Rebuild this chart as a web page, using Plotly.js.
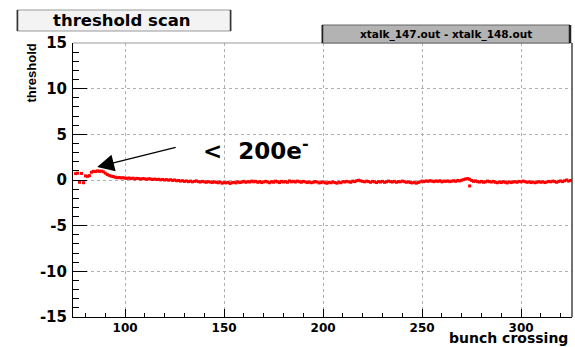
<!DOCTYPE html>
<html>
<head>
<meta charset="utf-8">
<script src="https://cdn.plot.ly/plotly-3.0.1.min.js"></script>
<style>
  html, body { margin: 0; padding: 0; background: #ffffff; }
  #chart { width: 575px; height: 347px; }
</style>
</head>
<body>
<div id="chart"></div>
<script>
// ---- data ----
const firstBunch = 75;
const thresholdValues = [
  0.70, 0.75, -0.25, 0.72, -0.30, 0.45, 0.40, 0.48, 0.85, 0.95,
  0.92, 1.00, 0.95, 0.98, 0.90, 0.75, 0.60, 0.50, 0.42, 0.38,
  0.30, 0.25, 0.28, 0.22, 0.25, 0.20, 0.18, 0.22, 0.15, 0.20,
  0.12, 0.18, 0.15, 0.10, 0.16, 0.12, 0.08, 0.14, 0.10, 0.06,
  0.10, 0.05, 0.08, 0.02, 0.06, 0.00, 0.04, -0.02, 0.03, -0.05,
  0.00, -0.08, -0.05, -0.12, -0.08, -0.15, -0.10, -0.18, -0.12, -0.20,
  -0.15, -0.10, -0.18, -0.22, -0.15, -0.20, -0.25, -0.18, -0.22, -0.28,
  -0.20, -0.25, -0.30, -0.22, -0.35, -0.28, -0.32, -0.25, -0.38, -0.30,
  -0.25, -0.32, -0.20, -0.28, -0.22, -0.15, -0.25, -0.18, -0.22, -0.12,
  -0.20, -0.15, -0.25, -0.18, -0.28, -0.20, -0.15, -0.22, -0.30, -0.18,
  -0.25, -0.12, -0.20, -0.28, -0.15, -0.22, -0.18, -0.25, -0.10, -0.20,
  -0.15, -0.22, -0.12, -0.18, -0.25, -0.15, -0.20, -0.28, -0.22, -0.30,
  -0.25, -0.18, -0.22, -0.32, -0.28, -0.20, -0.30, -0.35, -0.25, -0.30,
  -0.22, -0.28, -0.35, -0.25, -0.30, -0.18, -0.22, -0.15, -0.20, -0.25,
  -0.12, -0.18, -0.08, -0.02, -0.10, -0.15, -0.20, -0.12, -0.18, -0.25,
  -0.15, -0.20, -0.28, -0.18, -0.22, -0.15, -0.25, -0.20, -0.12, -0.18,
  -0.22, -0.15, -0.25, -0.18, -0.20, -0.12, -0.18, -0.25, -0.20, -0.28,
  -0.32, -0.25, -0.35, -0.28, -0.20, -0.12, -0.18, -0.10, -0.15, -0.08,
  -0.12, -0.18, -0.10, -0.15, -0.08, -0.20, -0.12, -0.15, -0.10, -0.18,
  -0.12, -0.08, -0.15, -0.05, -0.10, -0.02, 0.05, 0.12, 0.15, 0.08,
  -0.05, -0.15, -0.10, -0.18, -0.22, -0.15, -0.25, -0.20, -0.12, -0.18,
  -0.22, -0.15, -0.25, -0.30, -0.22, -0.28, -0.18, -0.25, -0.32, -0.20,
  -0.28, -0.22, -0.18, -0.25, -0.15, -0.20, -0.12, -0.18, -0.25, -0.20,
  -0.28, -0.22, -0.30, -0.25, -0.18, -0.25, -0.20, -0.28, -0.22, -0.15,
  -0.20, -0.12, -0.18, -0.25, -0.15, -0.10, -0.18, -0.08, 0.00, -0.12,
  -0.05
];
const bunchCrossing = thresholdValues.map((v, i) => firstBunch + i);
const extraBunch = [274];
const extraValues = [-0.65];

const xTickVals = [100, 150, 200, 250, 300];
const xTickText = ["100", "150", "200", "250", "300"];
const yTickVals = [-15, -10, -5, 0, 5, 10, 15];
const yTickText = ["-15", "-10", "-5", "0", "5", "10", "15"];

const chartTitle = "threshold scan";
const statsLabel = "xtalk_147.out - xtalk_148.out";
const xTitle = "bunch crossing";
const yTitle = "threshold";
const noteText = "&lt;&nbsp; 200e<sup>-</sup>";

// ---- geometry helpers (pixel -> paper) ----
const W = 575, H = 347;
const L = 73, R = 572, T = 43, B = 317;
const px = v => (v - L) / (R - L);
const py = v => (B - v) / (B - T);

const traces = [
  {
    x: bunchCrossing, y: thresholdValues, type: "scatter", mode: "markers",
    marker: {symbol: "square", size: 3, color: "#ff0000", line: {width: 0}},
    hoverinfo: "x+y", showlegend: false
  },
  {
    x: extraBunch, y: extraValues, type: "scatter", mode: "markers",
    marker: {symbol: "square", size: 3, color: "#ff0000", line: {width: 0}},
    hoverinfo: "x+y", showlegend: false
  }
];

const layout = {
  width: W, height: H,
  margin: {l: L, r: W - R, t: T, b: H - B, pad: 0},
  paper_bgcolor: "#ffffff", plot_bgcolor: "#ffffff",
  showlegend: false,
  xaxis: {
    range: [73.7, 325.7], autorange: false,
    tickvals: xTickVals, ticktext: xTickText,
    ticks: "inside", ticklen: 8, tickwidth: 1, tickcolor: "#000",
    minor: {dtick: 10, tick0: 0, ticks: "inside", ticklen: 4, tickcolor: "#000", showgrid: false},
    showgrid: true, gridcolor: "#b0b0b0", griddash: "dot", gridwidth: 1,
    showline: true, linecolor: "#000", linewidth: 1, mirror: false,
    zeroline: false,
    tickfont: {family: "DejaVu Sans", size: 12, color: "#000", weight: "bold"}
  },
  yaxis: {
    range: [-15, 15], autorange: false,
    tickvals: yTickVals, ticktext: yTickText,
    ticks: "inside", ticklen: 14, tickwidth: 1, tickcolor: "#000",
    minor: {dtick: 1, tick0: 0, ticks: "inside", ticklen: 6, tickcolor: "#000", showgrid: false},
    showgrid: true, gridcolor: "#b0b0b0", griddash: "dot", gridwidth: 1,
    showline: true, linecolor: "#000", linewidth: 1, mirror: false,
    zeroline: false,
    tickfont: {family: "DejaVu Sans", size: 15, color: "#000", weight: "bold"}, ticklabelstandoff: 2
  },
  shapes: [
    // frame top/right
    {type: "line", xref: "paper", yref: "paper", x0: 0, x1: 1, y0: 1, y1: 1, line: {color: "#999", width: 1}},
    {type: "line", xref: "paper", yref: "paper", x0: 1, x1: 1, y0: 0, y1: 1, line: {color: "#444", width: 1.5}},
    // title box
    {type: "rect", xref: "paper", yref: "paper", x0: px(17), x1: px(231), y0: py(31), y1: py(10),
     fillcolor: "#f3f3f3", line: {color: "#999", width: 1}},
    {type: "line", xref: "paper", yref: "paper", x0: px(17.5), x1: px(17.5), y0: py(31), y1: py(10), line: {color: "#333", width: 1.5}},
    {type: "line", xref: "paper", yref: "paper", x0: px(230.5), x1: px(230.5), y0: py(31), y1: py(10), line: {color: "#333", width: 1.5}},
    // stats box
    {type: "rect", xref: "paper", yref: "paper", x0: px(322), x1: px(570), y0: py(43), y1: py(25),
     fillcolor: "#b3b3b3", line: {color: "#666", width: 1}},
    {type: "line", xref: "paper", yref: "paper", x0: px(322.5), x1: px(322.5), y0: py(43), y1: py(25), line: {color: "#222", width: 1.5}},
    {type: "line", xref: "paper", yref: "paper", x0: px(570), x1: px(570), y0: py(43), y1: py(25), line: {color: "#222", width: 2.5}}
  ],
  annotations: [
    {xref: "paper", yref: "paper", x: px(122), y: py(20.5), text: chartTitle, showarrow: false,
     xanchor: "center", yanchor: "middle", font: {family: "DejaVu Sans", size: 16.5, color: "#000", weight: "bold"}},
    {xref: "paper", yref: "paper", x: px(446), y: py(34), text: statsLabel, showarrow: false,
     xanchor: "center", yanchor: "middle", font: {family: "DejaVu Sans", size: 10.5, color: "#000", weight: "bold"}},
    {xref: "paper", yref: "paper", x: px(570), y: py(348), text: xTitle, showarrow: false,
     xanchor: "right", yanchor: "bottom", font: {family: "DejaVu Sans", size: 14, color: "#000", weight: "bold"}},
    {xref: "paper", yref: "paper", x: px(31), y: py(42), text: yTitle, showarrow: false, textangle: -90,
     xanchor: "center", yanchor: "top", font: {family: "Liberation Sans", size: 13, color: "#000", weight: "bold"}},
    {xref: "x", yref: "y", x: 85.9, y: 1.42, axref: "x", ayref: "y", ax: 126.3, ay: 3.6,
     text: "", showarrow: true, arrowhead: 2, arrowsize: 2.6, arrowwidth: 1.3, arrowcolor: "#000"},
    {xref: "paper", yref: "paper", x: px(256), y: py(149), text: noteText, showarrow: false,
     xanchor: "center", yanchor: "middle", font: {family: "DejaVu Sans", size: 23, color: "#000", weight: "bold"}}
  ]
};

Plotly.newPlot("chart", traces, layout, {staticPlot: true, displayModeBar: false});
</script>
</body>
</html>
